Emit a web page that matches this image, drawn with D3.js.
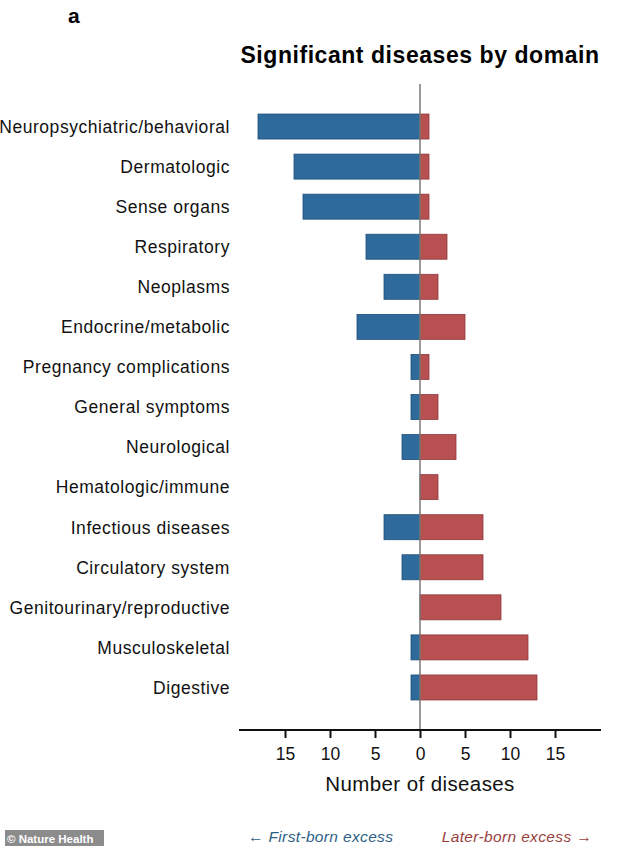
<!DOCTYPE html>
<html>
<head>
<meta charset="utf-8">
<script src="https://cdn.jsdelivr.net/npm/d3@7"></script>
<style>
  html, body { margin: 0; padding: 0; background: #fff; }
  svg { display: block; }
  text { font-family: "Liberation Sans", Arial, sans-serif; }
</style>
</head>
<body>
<svg id="chart" width="634" height="846"></svg>
<script>
const categories = [
  "Neuropsychiatric/behavioral", "Dermatologic", "Sense organs", "Respiratory",
  "Neoplasms", "Endocrine/metabolic", "Pregnancy complications", "General symptoms",
  "Neurological", "Hematologic/immune", "Infectious diseases", "Circulatory system",
  "Genitourinary/reproductive", "Musculoskeletal", "Digestive"
];
const firstBorn = [18, 14, 13, 6, 4, 7, 1, 1, 2, 0, 4, 2, 0, 1, 1];
const laterBorn = [1, 1, 1, 3, 2, 5, 1, 2, 4, 2, 7, 7, 9, 12, 13];
const tickValues = [-15, -10, -5, 0, 5, 10, 15];
const tickLabels = ["15", "10", "5", "0", "5", "10", "15"];

const svg = d3.select("#chart");
const blue = "#2e6a9b", blueStroke = "#1f4e78";
const red = "#b84f50", redStroke = "#8e3a3c";

const x = d3.scaleLinear().domain([-20, 20]).range([240, 600]);
const y = d3.scaleBand().domain(categories).range([106.5, 707.5]).paddingInner(0.376).paddingOuter(0.188);

// panel letter
svg.append("text").attr("x", 68).attr("y", 23).attr("font-size", 21).attr("font-weight", "bold").text("a");

// title
svg.append("text").attr("x", 420).attr("y", 63).attr("text-anchor", "middle")
  .attr("font-size", 23).attr("letter-spacing", 0.55).attr("font-weight", "bold")
  .text("Significant diseases by domain");

// bars
const g = svg.append("g");
g.selectAll("rect.fb").data(categories).join("rect").attr("class", "fb")
  .attr("x", (d, i) => x(-firstBorn[i])).attr("y", d => y(d))
  .attr("width", (d, i) => x(0) - x(-firstBorn[i])).attr("height", y.bandwidth())
  .attr("fill", blue).attr("stroke", blueStroke).attr("stroke-width", 0.8)
  .attr("display", (d, i) => firstBorn[i] > 0 ? null : "none");
g.selectAll("rect.lb").data(categories).join("rect").attr("class", "lb")
  .attr("x", x(0)).attr("y", d => y(d))
  .attr("width", (d, i) => x(laterBorn[i]) - x(0)).attr("height", y.bandwidth())
  .attr("fill", red).attr("stroke", redStroke).attr("stroke-width", 0.8)
  .attr("display", (d, i) => laterBorn[i] > 0 ? null : "none");

// category labels
svg.selectAll("text.cat").data(categories).join("text").attr("class", "cat")
  .attr("x", 230).attr("y", d => y(d) + y.bandwidth() / 2)
  .attr("dy", "0.36em").attr("text-anchor", "end").attr("font-size", 17.5)
  .attr("letter-spacing", 0.55).attr("fill", "#111")
  .text(d => d);

// zero line
svg.append("line").attr("x1", x(0)).attr("x2", x(0)).attr("y1", 84).attr("y2", 730)
  .attr("stroke", "#777").attr("stroke-width", 1.5);

// x axis
const axis = d3.axisBottom(x).tickValues(tickValues).tickSize(8).tickPadding(10)
  .tickFormat((d, i) => tickLabels[i]);
const ax = svg.append("g").attr("transform", "translate(0,730)").call(axis);
ax.select(".domain").attr("d", "M239,0H601").attr("stroke", "#111").attr("stroke-width", 2);
ax.selectAll(".tick line").attr("stroke", "#111").attr("stroke-width", 2);
ax.selectAll(".tick text").attr("font-size", 17.5).attr("fill", "#111")
  .attr("font-family", "'Liberation Sans', Arial, sans-serif");

svg.append("text").attr("x", 420).attr("y", 791).attr("text-anchor", "middle")
  .attr("font-size", 20.5).attr("letter-spacing", 0.4).attr("fill", "#111").text("Number of diseases");

// direction notes
svg.append("text").attr("x", 248).attr("y", 842).attr("font-size", 15.5).attr("letter-spacing", 0.35)
  .attr("font-style", "italic").attr("fill", "#2e5f88").text("← First-born excess");
svg.append("text").attr("x", 592).attr("y", 842).attr("text-anchor", "end").attr("font-size", 15.5)
  .attr("letter-spacing", 0.35).attr("font-style", "italic").attr("fill", "#9b3f40").text("Later-born excess →");

// watermark
svg.append("rect").attr("x", 5).attr("y", 830).attr("width", 99).attr("height", 16).attr("fill", "#8c8c8c");
svg.append("text").attr("x", 7).attr("y", 842.5).attr("font-size", 11.5).attr("font-weight", "bold")
  .attr("fill", "#fff").text("© Nature Health");
</script>
</body>
</html>
